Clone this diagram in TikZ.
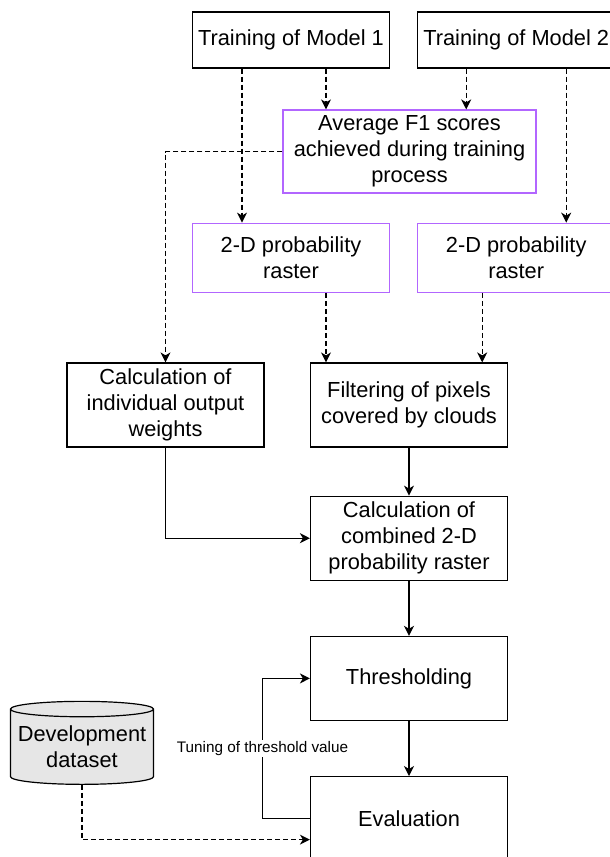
\documentclass[tikz,border=0pt]{standalone}
\usepackage{fontspec}
\setmainfont{Liberation Sans}
\usepackage{xcolor}
\usetikzlibrary{arrows.meta,positioning,shapes.geometric}

\definecolor{outviolet}{HTML}{B266FF}
\definecolor{dbgray}{HTML}{E6E6E6}

\begin{document}
\begin{tikzpicture}[
    x=1pt, y=-1pt,
    box/.style={
        rectangle,
        draw=black,
        line width=1.2pt,
        minimum width=197pt,
        minimum height=84pt,
        inner sep=0pt,
        align=center,
        font=\fontsize{21.8}{26}\selectfont
    },
    output/.style={
        box,
        draw=outviolet
    },
    database/.style={
        cylinder,
        draw=black,
        fill=dbgray,
        line width=1.2pt,
        shape border rotate=90,
        aspect=0.12,
        minimum width=143pt,
        minimum height=83pt,
        inner sep=0pt,
        align=center,
        font=\fontsize{21.8}{26}\selectfont
    },
    arrow/.style={
        -{Stealth[length=10pt,width=10pt,inset=3pt]},
        line width=1.2pt
    },
    dasharrow/.style={
        arrow,
        dash pattern=on 5pt off 3pt
    },
    remark/.style={
        fill=white,
        inner sep=1pt,
        font=\fontsize{15.3}{18}\selectfont
    }
]

\useasboundingbox (0,0) rectangle (610,857);

% ---------------- TRAINING ----------------

\node[box, minimum height=56pt] (train1) at (291,40)
    {Training of Model 1};

\node[box, minimum height=56pt, right=27pt of train1] (train2)
    {Training of Model 2};

\node[output, minimum width=253pt, minimum height=83pt] (avg) at (409.5,151.5)
    {Average F1 scores\\achieved during training\\process};

\node[output, minimum height=69pt, below=154pt of train1] (raster1)
    {2-D probability\\raster};

\node[output, minimum height=69pt, right=27pt of raster1] (raster2)
    {2-D probability\\raster};

% ---------------- COMBINATION ----------------

\node[box] (weights) at (165.5,405)
    {Calculation of\\individual output\\weights};

\node[box] (filter) at (409,405)
    {Filtering of pixels\\covered by clouds};

\node[box, below=48pt of filter] (combine)
    {Calculation of\\combined 2-D\\probability raster};

\node[box, below=55pt of combine] (thresh)
    {Thresholding};

\node[box, below=55pt of thresh] (eval)
    {Evaluation};

\node[database] (devdata) at (82,747)
    {Development\\dataset};


\draw[dasharrow] ([xshift=35pt]train1.south)
    -- ([xshift=35pt]train1.south |- avg.north);
\draw[dasharrow] ([xshift=-50pt]train2.south)
    -- ([xshift=-50pt]train2.south |- avg.north);

\draw[dasharrow] ([xshift=-49pt]train1.south) -- ([xshift=-49pt]raster1.north);
\draw[dasharrow] ([xshift=50pt]train2.south) -- ([xshift=50pt]raster2.north);

\draw[dasharrow] (avg.west) -| (weights.north);

\draw[dasharrow] ([xshift=35pt]raster1.south)
    -- ([xshift=35pt]raster1.south |- filter.north);
\draw[dasharrow] ([xshift=-34pt]raster2.south)
    -- ([xshift=-34pt]raster2.south |- filter.north);

\draw[arrow] (filter) -- (combine);
\draw[arrow] (weights.south) |- (combine.west);

\draw[arrow] (combine) -- (thresh);
\draw[arrow] (thresh) -- (eval);

\draw[arrow]
    (eval.west)
    -- ++(-47.4,0)
    |- node[pos=0.25,remark]{Tuning of threshold value}
    (thresh.west);

\draw[dasharrow]
    (devdata.south)
    |- ([yshift=-21pt]eval.west);

\end{tikzpicture}
\end{document}
